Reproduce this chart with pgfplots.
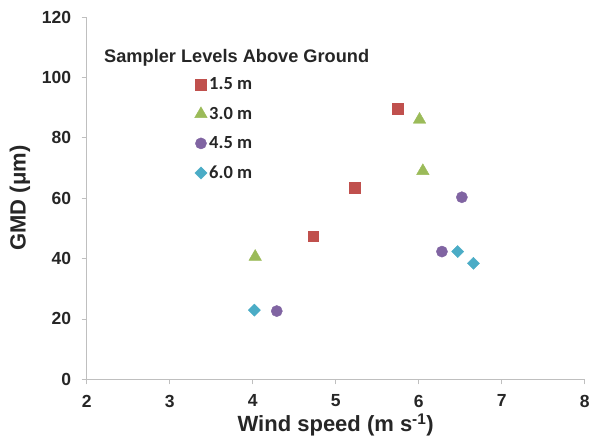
\documentclass[border=0pt]{standalone}
\usepackage{pgfplots}
\pgfplotsset{compat=1.18}
\usepackage{fontspec}
\setmainfont{Liberation Sans}
\newfontfamily\carlito{Carlito}
\definecolor{cRed}{HTML}{C0504D}
\definecolor{cGreen}{HTML}{9BBB59}
\definecolor{cPurple}{HTML}{8064A2}
\definecolor{cCyan}{HTML}{4BACC6}
\definecolor{cAxis}{HTML}{BFBFBF}
\definecolor{cText}{HTML}{262626}
\newcommand{\tickfont}{\fontsize{17.5}{20}\selectfont\bfseries}
\begin{document}
\begin{tikzpicture}[x=1pt,y=1pt]
\useasboundingbox (0,0) rectangle (593,440);
\begin{axis}[
  scale only axis,
  width=498pt, height=362.3pt,
  at={(86.7pt,60.7pt)}, anchor=south west,
  xmin=2, xmax=8, ymin=0, ymax=120,
  xtick={2,3,4,5,6,7,8},
  ytick={0,20,40,60,80,100,120},
  axis lines*=left,
  axis line style={cAxis, line width=0.8pt},
  tick style={cAxis, line width=0.8pt},
  tick align=outside,
  major tick length=5pt,
  /pgf/number format/assume math mode=true,
  xticklabel={\tickfont\pgfmathprintnumber{\tick}},
  yticklabel={\tickfont\pgfmathprintnumber{\tick}},
  tick label style={text=cText},
  xticklabel style={yshift=-7pt},
  yticklabel style={xshift=-7pt},
  xlabel={Wind speed (m s\textsuperscript{-1})},
  ylabel={GMD (μm)},
  label style={font=\fontsize{22}{26}\selectfont\bfseries, text=cText},
  xlabel style={at={(axis description cs:0.5,-0.126)}, anchor=center},
  ylabel style={at={(axis description cs:-0.134,0.5)}, anchor=center, rotate=0},
  legend style={draw=none, fill=none, at={(axis description cs:0.2165,0.838)}, anchor=north west,
    font=\carlito\fontsize{18.5}{21}\selectfont\bfseries, text=cText,
    row sep=11.8pt, inner xsep=0pt, inner ysep=0pt,
    /tikz/every even column/.append style={column sep=0pt}},
  legend cell align=left,
  clip=false,
]
\addplot[only marks, mark=square*, mark size=5.4pt, mark options={draw=cRed, fill=cRed, rounded corners=1.2pt}]
  coordinates {(5.745,89.7) (5.23,63.4) (4.73,47.4)};
\addlegendentry{1.5 m}
\addplot[only marks, mark=triangle*, mark size=7.2pt, mark options={draw=cGreen, fill=cGreen, rounded corners=1.2pt}]
  coordinates {(6.01,86.0) (6.05,69.0) (4.03,40.6)};
\addlegendentry{3.0 m}
\addplot[only marks, mark=*, mark size=5.6pt, mark options={draw=cPurple, fill=cPurple}]
  coordinates {(6.52,60.3) (6.28,42.3) (4.29,22.6)};
\addlegendentry{4.5 m}
\addplot[only marks, mark=square*, mark size=4.3pt, mark options={draw=cCyan, fill=cCyan, rotate=45, rounded corners=1pt}]
  coordinates {(6.47,42.3) (6.66,38.4) (4.02,22.9)};
\addlegendentry{6.0 m}
\end{axis}
\node[anchor=west, inner sep=0pt, font=\fontsize{18.2}{21}\selectfont\bfseries, text=cText] at (104,382) {Sampler Levels Above Ground};
\end{tikzpicture}
\end{document}
